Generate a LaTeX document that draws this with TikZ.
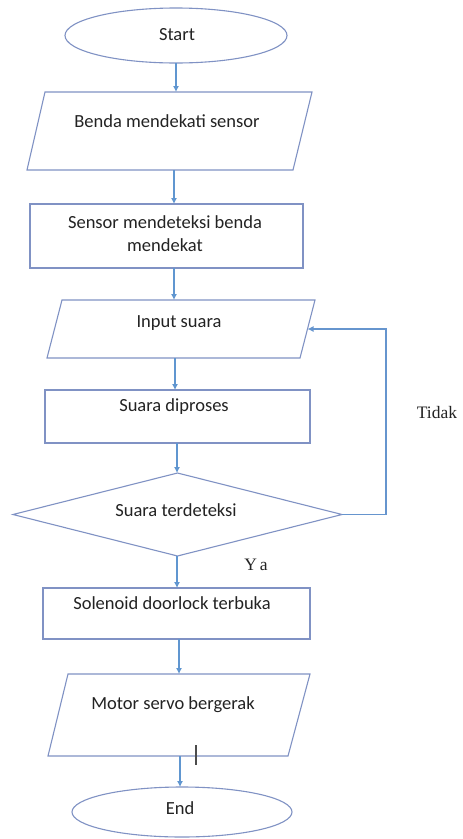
\documentclass[tikz,border=0pt]{standalone}
\usepackage{fontspec}
\setmainfont{Carlito}
\newfontfamily\seriffont{Liberation Serif}
\usetikzlibrary{shapes.geometric,arrows.meta}
\definecolor{outl}{RGB}{128,146,196}
\definecolor{arrc}{RGB}{96,150,208}
\definecolor{txt}{RGB}{35,35,35}
\tikzset{
  shp/.style={inner sep=0pt, outer sep=0pt, line width=1.1pt, draw=outl},
  ghost/.style={rectangle, inner sep=0pt, outer sep=0pt},
  lbl/.style={text=txt, font=\fontsize{18.5}{23}\selectfont, inner sep=0pt, align=center},
  yn/.style={text=txt, font=\seriffont\fontsize{17.5}{20}\selectfont, inner sep=0pt},
  arr/.style={draw=arrc, line width=1.1pt, -{Latex[length=6pt,width=6pt]}},
  tickline/.style={draw=black!70, line width=1.3pt}
}
\begin{document}
\begin{tikzpicture}[x=1pt,y=-1pt]
\useasboundingbox[fill=white] (0,0) rectangle (463,839);

% shapes
\node[shp, ellipse, minimum width=222pt, minimum height=55pt] (start) at (176,35.5) {};
\node[ghost, minimum width=285pt, minimum height=78pt] (p1) at (169.5,131) {};
\draw[shp] ([xshift=18pt]p1.north west) -- (p1.north east) -- ([xshift=-19pt]p1.south east) -- (p1.south west) -- cycle;
\node[shp, rectangle, minimum width=273pt, minimum height=64pt] (box2) at (166.5,236) {};
\node[ghost, minimum width=268pt, minimum height=58pt] (p2) at (181,329) {};
\draw[shp] ([xshift=15pt]p2.north west) -- (p2.north east) -- ([xshift=-15pt]p2.south east) -- (p2.south west) -- cycle;
\node[shp, rectangle, minimum width=265pt, minimum height=53pt] (box3) at (177.5,416.5) {};
\node[shp, diamond, minimum width=329pt, minimum height=83pt] (dia) at (177.5,514.5) {};
\node[shp, rectangle, minimum width=267pt, minimum height=51pt] (box4) at (176.5,613.5) {};
\node[ghost, minimum width=262pt, minimum height=82pt] (p3) at (179,715) {};
\draw[shp] ([xshift=20pt]p3.north west) -- (p3.north east) -- ([xshift=-22pt]p3.south east) -- (p3.south west) -- cycle;
\node[shp, ellipse, minimum width=220pt, minimum height=50pt] (end) at (182,812) {};

% texts
\node[lbl] (tstart) at (177,35) {Start};
\node[lbl] (t1) at (167,121) {Benda mendekati sensor};
\node[lbl] (t2) at (165,233.5) {Sensor mendeteksi benda\\mendekat};
\node[lbl] (t3) at (179,323) {Input suara};
\node[lbl] (t4) at (174,407) {Suara diproses};
\node[lbl] (t5) at (176,510) {Suara terdeteksi};
\node[lbl] (t6) at (172,603) {Solenoid doorlock terbuka};
\node[lbl] (t7) at (173,705) {Motor servo bergerak};
\node[lbl] (tend) at (180,808) {End};
\node[yn] (tidak) at (437,413) {Tidak};
\node[yn] (ya) at (256,565) {Y\,a};

% connectors
\draw[arr] (start.south) -- ([xshift=6.5pt]p1.north);
\draw[arr] ([xshift=4.5pt]p1.south) -- ([xshift=7.5pt]box2.north);
\draw[arr] ([xshift=7.5pt]box2.south) -- ([xshift=-7pt]p2.north);
\draw[arr] ([xshift=-6pt]p2.south) -- ([xshift=-2.5pt]box3.north);
\draw[arr] ([xshift=-0.5pt]box3.south) -- ([xshift=-0.5pt]dia.north);
\draw[arr] ([xshift=-0.5pt]dia.south) -- ([xshift=0.5pt]box4.north);
\draw[arr] ([xshift=2.5pt]box4.south) -- (p3.north);
\draw[arr] ([xshift=1pt]p3.south) -- ([xshift=-2pt]end.north);
\draw[arr, draw=arrc!80!outl] (dia.east) -- ++(44,0) |- ([xshift=-7.5pt]p2.east);

% tick mark
\draw[tickline] ([xshift=17pt,yshift=11pt]p3.south) -- ([xshift=17pt,yshift=-9pt]p3.south);
\end{tikzpicture}
\end{document}
